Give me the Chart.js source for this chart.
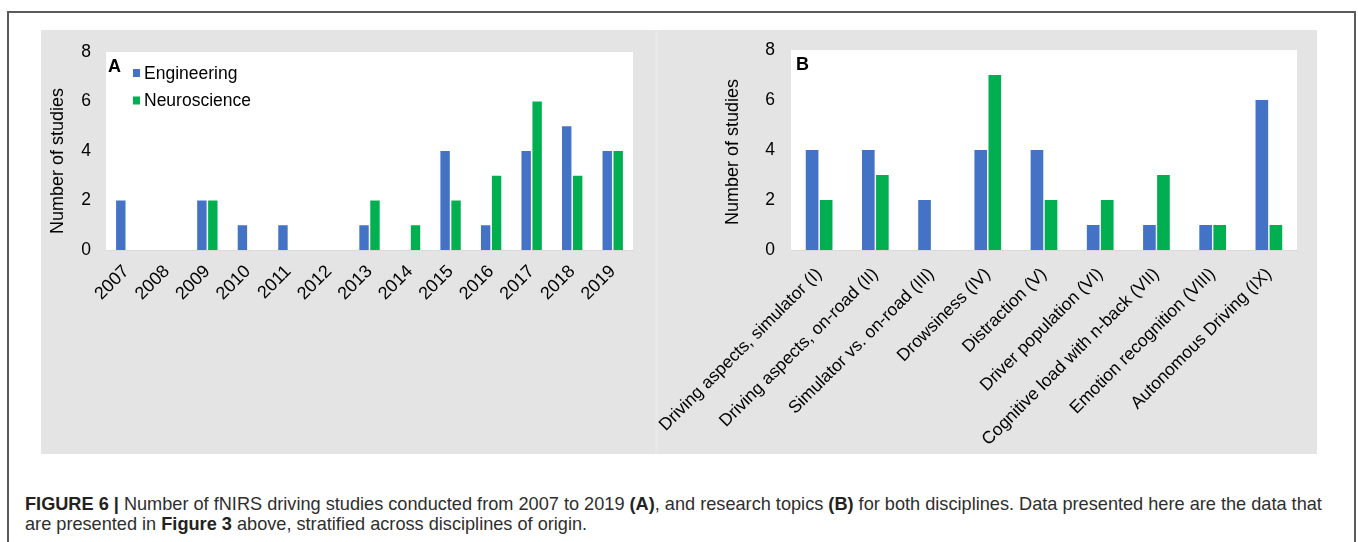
<!DOCTYPE html>
<html>
<head>
<meta charset="utf-8">
<script src="https://cdn.jsdelivr.net/npm/chart.js@4.4.1/dist/chart.umd.min.js"></script>
<style>
  html, body { margin: 0; padding: 0; background: #fff; }
  body { width: 1358px; height: 542px; position: relative; overflow: hidden;
         font-family: 'Liberation Sans', Arial, sans-serif; }
  #frame { position: absolute; left: 7px; top: 11px; width: 1349px; height: 620px;
           border: 2px solid #5b5b5b; border-bottom: none; box-sizing: border-box; }
  .panel { position: absolute; top: 30px; height: 424px; background: #e4e4e4; }
  #panelA { left: 41px; width: 614px; }
  #gap { left: 655px; width: 3px; background: #e8e8e8; }
  #panelB { left: 658px; width: 659px; }
  .wrap { position: absolute; top: 30px; height: 424px; }
  #wrapA { left: 20px; width: 650px; }
  #wrapB { left: 640px; width: 700px; }
  #caption { position: absolute; left: 25px; top: 494px; font-size: 16px; line-height: 20px;
             color: #2e2e2e; white-space: nowrap; }
  #caption b { color: #222; }
</style>
</head>
<body>
<div id="frame"></div>
<div class="panel" id="panelA"></div>
<div class="panel" id="gap"></div>
<div class="panel" id="panelB"></div>
<div class="wrap" id="wrapA"><canvas id="chartA" width="650" height="424"></canvas></div>
<div class="wrap" id="wrapB"><canvas id="chartB" width="700" height="424"></canvas></div>
<div id="caption"><span id="line1"><b>FIGURE 6 |</b> Number of fNIRS driving studies conducted from 2007 to 2019 <b>(A)</b>, and research topics <b>(B)</b> for both disciplines. Data presented here are the data that</span><br>are presented in <b>Figure 3</b> above, stratified across disciplines of origin.</div>

<script>
// Studies per publication year
const years = ['2007', '2008', '2009', '2010', '2011', '2012', '2013', '2014', '2015', '2016', '2017', '2018', '2019'];
const engineeringByYear  = [2, 0, 2, 1, 1, 0, 1, 0, 4, 1, 4, 5, 4];
const neuroscienceByYear = [0, 0, 2, 0, 0, 0, 2, 1, 2, 3, 6, 3, 4];

// Studies per research topic
const topics = [
  'Driving aspects, simulator (I)',
  'Driving aspects, on-road (II)',
  'Simulator vs. on-road (III)',
  'Drowsiness (IV)',
  'Distraction (V)',
  'Driver population (VI)',
  'Cognitive load with n-back (VII)',
  'Emotion recognition (VIII)',
  'Autonomous Driving (IX)'
];
const engineeringByTopic  = [4, 4, 2, 4, 4, 1, 1, 1, 6];
const neuroscienceByTopic = [2, 3, 0, 7, 2, 2, 3, 1, 1];

const countTicks = [0, 2, 4, 6, 8];
const seriesNames = ['Engineering', 'Neuroscience'];
const axisTitle = 'Number of studies';

const BLUE = '#4472c4';
const GREEN = '#00b050';
const FONT = "'Liberation Sans', Arial, sans-serif";

// White plotting area on the grey panel
const plotBackground = {
  id: 'plotBackground',
  beforeDraw(chart) {
    const { ctx, chartArea: a } = chart;
    ctx.save();
    ctx.fillStyle = '#ffffff';
    ctx.fillRect(a.left, a.top, a.right - a.left, a.bottom - a.top);
    ctx.restore();
  }
};

// Panel letter, series key and the rotated value-axis title
const panelText = {
  id: 'panelText',
  afterDatasetsDraw(chart, args, opts) {
    const { ctx, chartArea: { left, top } } = chart;
    ctx.save();
    ctx.textBaseline = 'middle';
    ctx.fillStyle = '#000';
    ctx.font = 'bold 18px ' + FONT;
    ctx.fillText(opts.letter, left + opts.letterDx, top + opts.letterDy);
    if (opts.showKey) {
      chart.data.datasets.forEach((ds, i) => {
        const y = top + 21 + i * 27.5;
        ctx.fillStyle = ds.backgroundColor;
        ctx.fillRect(left + 27, y - 4, 7, 8);
        ctx.fillStyle = '#000';
        ctx.font = '17.5px ' + FONT;
        ctx.fillText(ds.label, left + 38, y + 1);
      });
    }
    ctx.translate(left + opts.titleDx, top + opts.titleDy);
    ctx.rotate(-Math.PI / 2);
    ctx.textAlign = 'center';
    ctx.fillStyle = '#000';
    ctx.font = '18px ' + FONT;
    ctx.fillText(axisTitle, 0, 0);
    ctx.restore();
  }
};

function makeChart(id, labels, eng, neu, cfg) {
  return new Chart(document.getElementById(id), {
    type: 'bar',
    data: {
      labels: labels,
      datasets: [
        { label: seriesNames[0], data: eng, backgroundColor: BLUE,
          categoryPercentage: cfg.catPct, barPercentage: cfg.barPct },
        { label: seriesNames[1], data: neu, backgroundColor: GREEN,
          categoryPercentage: cfg.catPct, barPercentage: cfg.barPct }
      ]
    },
    plugins: [plotBackground, panelText],
    options: {
      responsive: false,
      animation: false,
      devicePixelRatio: 1,
      layout: { padding: cfg.padding },
      plugins: {
        legend: { display: false },
        tooltip: { enabled: false },
        panelText: cfg.text
      },
      scales: {
        x: {
          grid: { display: false, drawTicks: false },
          border: { display: true, color: '#d9d9d9', width: 1 },
          ticks: {
            autoSkip: false, maxRotation: 45, minRotation: 45, padding: cfg.xPad,
            color: '#000', font: { family: FONT, size: cfg.xFont }
          },
          afterFit(scale) {
            scale.height = cfg.xHeight;
            scale.paddingLeft = 0;
            scale.paddingRight = 0;
          }
        },
        y: {
          min: countTicks[0],
          max: countTicks[countTicks.length - 1],
          grid: { display: false, drawTicks: false },
          border: { display: false },
          afterBuildTicks(scale) {
            scale.ticks = countTicks.map(v => ({ value: v }));
          },
          ticks: { padding: cfg.yPad, color: '#000', font: { family: FONT, size: 17.5 } },
          afterFit(scale) {
            scale.width = cfg.yWidth;
            scale.paddingTop = 0;
            scale.paddingBottom = 0;
          }
        }
      }
    }
  });
}

makeChart('chartA', years, engineeringByYear, neuroscienceByYear, {
  catPct: 0.54, barPct: 0.86, xPad: 11, yPad: 15, xFont: 18,
  padding: { left: 23.8, right: 37, top: 22, bottom: 0 },
  yWidth: 62.2, xHeight: 204,
  text: { letter: 'A', letterDx: 2, letterDy: 15.5, showKey: true, titleDx: -48, titleDy: 109 }
});

makeChart('chartB', topics, engineeringByTopic, neuroscienceByTopic, {
  catPct: 0.5, barPct: 0.9, xPad: 14, yPad: 16, xFont: 17.5,
  padding: { left: 78.8, right: 43, top: 20, bottom: 0 },
  yWidth: 72.2, xHeight: 204,
  text: { letter: 'B', letterDx: 5, letterDy: 15, showKey: false, titleDx: -58, titleDy: 102 }
});

// Fit the first caption line to the text block width
(function fitCaption() {
  const line = document.getElementById('line1');
  const cap = document.getElementById('caption');
  const w = line.getBoundingClientRect().width;
  const target = 1298;
  if (w > 0) cap.style.fontSize = (16 * target / w).toFixed(2) + 'px';
})();
</script>
</body>
</html>
